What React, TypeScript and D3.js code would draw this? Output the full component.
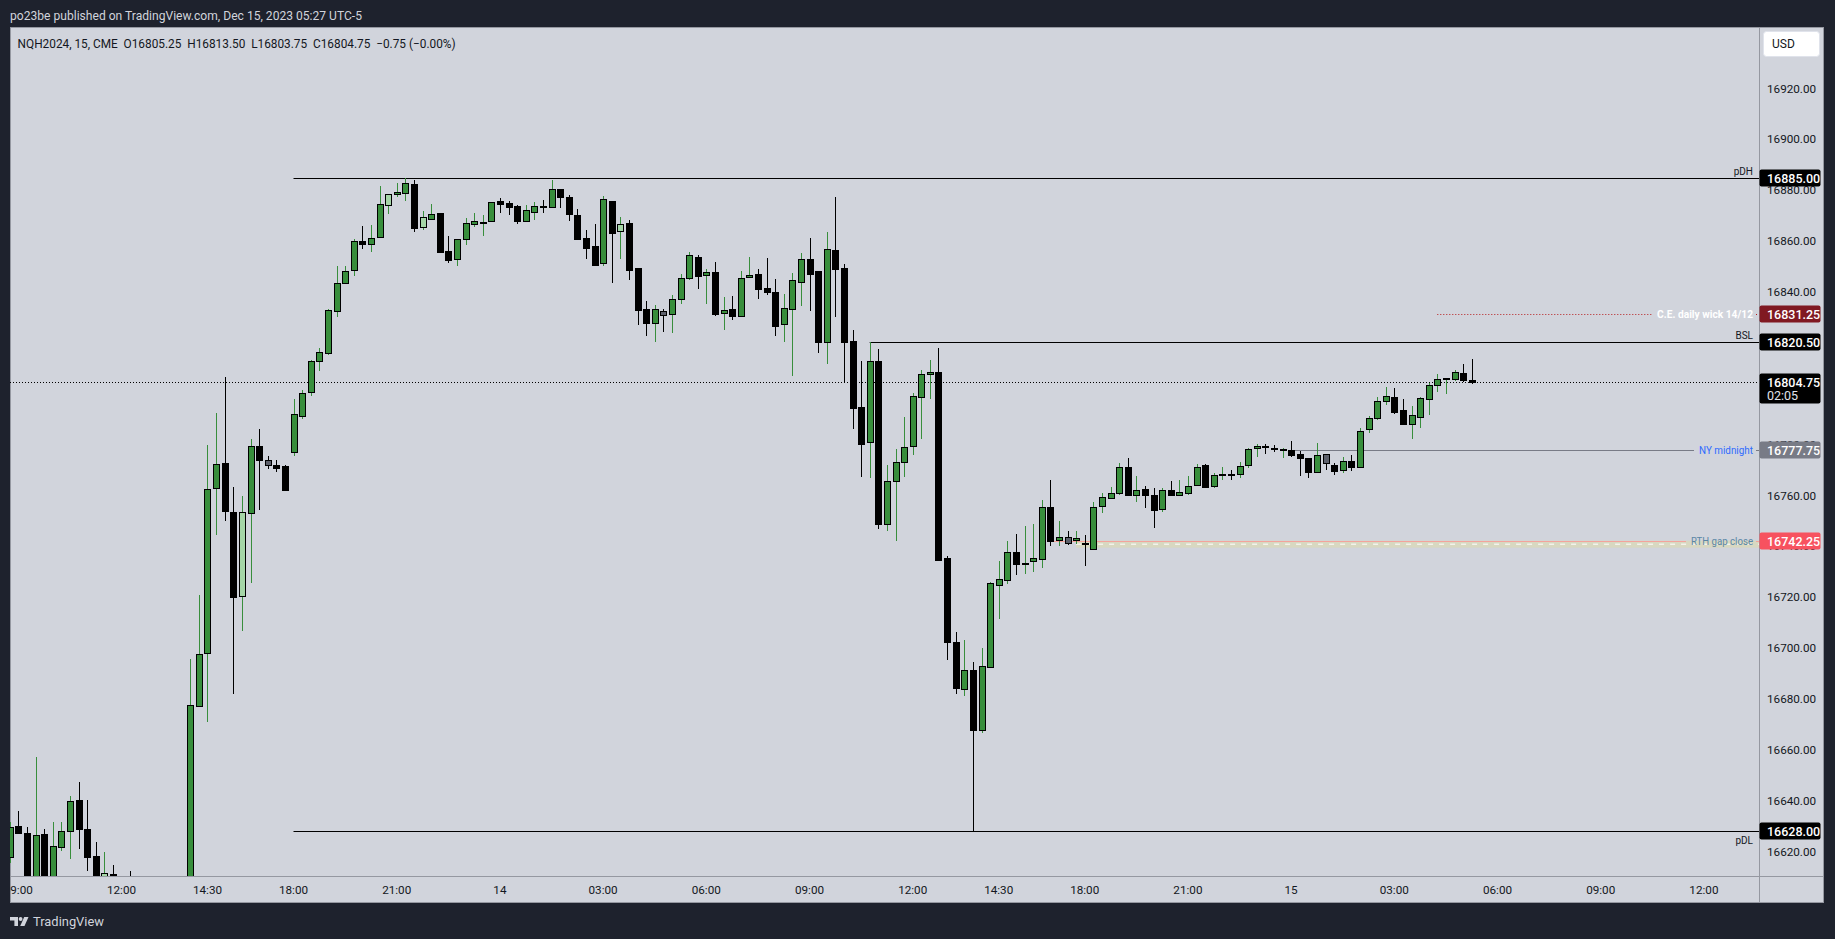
import * as d3 from "d3";

// NQH2024 15-minute bars, first bar Dec 13 2023 08:45 (UTC-5); the 17:00-18:00 halt has no bars
const opens = [
  16617.7, 16629.9, 16627.2, 16605, 16626.8, 16606, 16621.7, 16628.0, 16640.2, 16628.8,
  16618.1, 16604, 16611.2, 16603, 16600, 16597, 16601, 16597, 16594, 16599,
  16602, 16603, 16677.1, 16697.95, 16763.1, 16772.7, 16753.4, 16720.6, 16753.3, 16779.3,
  16773.8, 16771.9, 16771.5, 16777.2, 16791.4, 16800.6, 16812.7, 16815.9, 16832.4, 16843.4,
  16848.5, 16860.1, 16858.7, 16861.8, 16874.3, 16878.4, 16879.1, 16882.3, 16865.4, 16868.8,
  16870.9, 16856.1, 16852.8, 16860.7, 16866.6, 16867.3, 16867.8, 16875.7, 16874.9, 16873.7,
  16868.1, 16871.6, 16873.7, 16873.6, 16880.4, 16877.4, 16870.3, 16861.1, 16858.0, 16851.5,
  16875.8, 16863.9, 16867.0, 16849.3, 16833.2, 16828.0, 16832.4, 16831.2, 16837.1, 16845.4,
  16853.6, 16846.9, 16847.7, 16831.6, 16833.2, 16830.7, 16845.8, 16847.0, 16841.4, 16839.9,
  16827.3, 16833.5, 16843.8, 16852.8, 16848.1, 16820.5, 16856.5, 16849.3, 16820.6, 16794.8,
  16780.9, 16812.7, 16749.0, 16765.6, 16773.0, 16779.3, 16798.6, 16807.6, 16808.4, 16735.3,
  16702.3, 16684.0, 16691.3, 16667.9, 16692.7, 16724.9, 16726.6, 16737.7, 16733.2, 16734.1,
  16735.2, 16755.4, 16742.4, 16743.6, 16742.4, 16741.2, 16738.8, 16755.8, 16758.9, 16760.9,
  16771.1, 16760.1, 16762.4, 16760.1, 16754.6, 16762.0, 16760.1, 16760.9, 16764.0, 16771.9,
  16763.6, 16768.2, 16768.3, 16768.5, 16772.0, 16778.7, 16779.5, 16778.8, 16778.2, 16777.75,
  16776.4, 16774.7, 16769.1, 16776.3, 16772.0, 16770.1, 16773.6, 16771.1, 16786.1, 16790.4,
  16797.0, 16798.6, 16793.5, 16788.0, 16790.8, 16797.8, 16803.3, 16805.9, 16806.0, 16808.0,
  16805.25,
];
const highs = [
  16631.8, 16636.0, 16629.7, 16657.2, 16628.8, 16631.6, 16631.6, 16641.7, 16647.4, 16640.3,
  16623.6, 16619.7, 16614.7, 16608, 16612.4, 16606, 16607, 16604, 16603, 16606,
  16608, 16695.7, 16720.9, 16779.9, 16792.4, 16806.6, 16763.3, 16759.8, 16782.2, 16786.1,
  16775.5, 16774.0, 16772.0, 16797.9, 16801.5, 16813.3, 16817.9, 16833.3, 16850.2, 16850.2,
  16860.7, 16866.0, 16866.3, 16881.7, 16878.4, 16882.9, 16885.0, 16883.9, 16871.9, 16874.6,
  16870.9, 16862.0, 16860.7, 16869.0, 16871.1, 16870.3, 16875.3, 16876.8, 16875.8, 16874.2,
  16874.2, 16875.4, 16876.2, 16884.0, 16880.4, 16878.1, 16872.6, 16864.4, 16866.7, 16877.7,
  16875.8, 16869.5, 16868.3, 16849.3, 16836.5, 16834.8, 16833.2, 16838.7, 16847.0, 16855.7,
  16854.4, 16849.0, 16851.8, 16838.0, 16838.4, 16848.3, 16853.8, 16849.0, 16853.4, 16845.1,
  16839.2, 16847.5, 16855.3, 16861.2, 16848.1, 16863.6, 16877.4, 16851.0, 16825.1, 16812.9,
  16820.5, 16817.6, 16772.0, 16778.3, 16790.9, 16800.3, 16809.3, 16813.3, 16818.0, 16736.2,
  16706.3, 16703.2, 16694.5, 16700.0, 16726.0, 16734.2, 16742.1, 16744.9, 16748.0, 16748.8,
  16758.1, 16766.1, 16750.0, 16746.0, 16746.0, 16744.5, 16757.3, 16760.9, 16763.4, 16772.8,
  16774.7, 16767.7, 16763.7, 16762.9, 16762.9, 16765.7, 16766.1, 16767.7, 16772.3, 16772.3,
  16768.7, 16771.2, 16769.9, 16773.1, 16778.8, 16780.2, 16780.1, 16780.0, 16778.7, 16781.5,
  16777.6, 16774.7, 16780.6, 16776.3, 16772.8, 16775.1, 16775.9, 16786.5, 16791.2, 16798.6,
  16802.5, 16802.1, 16797.8, 16795.1, 16798.6, 16804.1, 16807.6, 16806.4, 16809.5, 16811.6,
  16813.5,
];
const lows = [
  16615.4, 16627.0, 16600, 16600, 16602, 16603, 16620.4, 16617.2, 16621.1, 16612.5,
  16602, 16600, 16598, 16596, 16594, 16591, 16595, 16590, 16589, 16594,
  16597, 16600, 16677.1, 16671.1, 16744.6, 16750.1, 16682.1, 16706.9, 16725.7, 16754.4,
  16770.6, 16769.4, 16762.3, 16775.5, 16790.2, 16799.3, 16809.1, 16815.4, 16830.3, 16843.4,
  16846.4, 16856.8, 16855.9, 16861.1, 16870.8, 16877.5, 16875.9, 16863.7, 16864.5, 16868.3,
  16855.5, 16851.5, 16850.4, 16858.6, 16865.7, 16862.0, 16867.8, 16871.2, 16870.3, 16866.9,
  16867.7, 16868.4, 16871.2, 16873.0, 16873.0, 16868.1, 16861.0, 16853.0, 16850.8, 16850.4,
  16843.7, 16853.1, 16844.9, 16827.2, 16822.8, 16820.5, 16824.4, 16824.0, 16835.4, 16844.7,
  16841.3, 16835.4, 16830.7, 16825.1, 16829.1, 16830.7, 16845.8, 16837.4, 16839.0, 16822.8,
  16820.5, 16807.0, 16834.6, 16832.7, 16816.2, 16811.8, 16830.3, 16804.5, 16786.3, 16767.4,
  16767.0, 16747.0, 16746.2, 16742.2, 16767.4, 16776.1, 16782.4, 16798.1, 16734.4, 16695.3,
  16682.1, 16681.3, 16628.0, 16666.8, 16692.7, 16711.6, 16725.2, 16728.9, 16729.3, 16730.1,
  16731.6, 16740.1, 16740.1, 16740.5, 16740.9, 16732.4, 16738.8, 16753.3, 16758.5, 16760.2,
  16759.7, 16757.3, 16755.2, 16747.4, 16753.4, 16760.1, 16760.1, 16760.1, 16764.0, 16763.2,
  16763.1, 16766.0, 16766.0, 16766.8, 16770.7, 16775.0, 16776.2, 16777.0, 16774.6, 16775.0,
  16767.6, 16766.8, 16768.7, 16769.9, 16768.2, 16768.7, 16769.5, 16770.7, 16784.5, 16789.6,
  16795.5, 16792.2, 16787.9, 16782.4, 16786.5, 16791.6, 16800.6, 16799.8, 16805.2, 16804.5,
  16803.75,
];
const closes = [
  16629.5, 16627.4, 16605, 16626.4, 16606, 16622.1, 16628.0, 16639.8, 16629.0, 16618.0,
  16606, 16611.4, 16603, 16600, 16597, 16601, 16597, 16594, 16599, 16602,
  16603, 16677.5, 16697.6, 16762.6, 16772.3, 16754.0, 16720.2, 16753.4, 16779.3, 16774.1,
  16772.1, 16770.95, 16762.3, 16791.9, 16800.2, 16812.7, 16816.3, 16832.8, 16843.4, 16848.1,
  16859.9, 16859.0, 16861.1, 16874.5, 16878.4, 16879.2, 16882.7, 16865.3, 16869.4, 16870.5,
  16855.9, 16852.7, 16860.7, 16867.0, 16867.8, 16867.5, 16875.3, 16874.7, 16873.6, 16868.1,
  16872.1, 16873.8, 16873.6, 16880.4, 16877.5, 16870.8, 16861.0, 16857.4, 16850.8, 16876.4,
  16863.3, 16866.6, 16848.8, 16833.1, 16828.0, 16833.2, 16830.8, 16837.1, 16845.4, 16854.4,
  16846.4, 16847.7, 16831.5, 16832.8, 16830.7, 16845.4, 16846.6, 16841.3, 16840.1, 16826.8,
  16833.6, 16844.6, 16852.8, 16847.2, 16820.5, 16856.8, 16849.2, 16820.5, 16794.5, 16780.4,
  16812.7, 16748.9, 16765.6, 16773.0, 16778.9, 16799.0, 16807.6, 16808.4, 16734.8, 16702.3,
  16684.4, 16691.3, 16667.9, 16692.8, 16725.5, 16727.0, 16737.7, 16733.2, 16733.3, 16735.3,
  16755.4, 16742.2, 16743.6, 16741.5, 16743.2, 16740.9, 16755.4, 16759.3, 16760.9, 16771.1,
  16760.1, 16762.0, 16760.1, 16754.2, 16762.0, 16760.1, 16761.3, 16763.6, 16771.1, 16763.2,
  16768.0, 16768.4, 16768.0, 16771.6, 16778.3, 16779.5, 16779.4, 16778.7, 16778.3, 16775.8,
  16774.6, 16769.1, 16775.9, 16772.8, 16769.5, 16773.6, 16771.1, 16785.3, 16790.4, 16797.0,
  16799.0, 16793.0, 16788.3, 16791.6, 16798.2, 16803.3, 16806.0, 16806.1, 16808.4, 16805.6,
  16804.75,
];
// bars drawn with the faded body colour
const dimBars = [11, 27, 30, 44, 48, 71, 76, 123, 153];

const priceTicks = [16620, 16640, 16660, 16680, 16700, 16720, 16740, 16760, 16780, 16800, 16820, 16840, 16860, 16880, 16900, 16920];
const timeTicks = [
  { label: "09:00", time: "2023-12-13 09:00" },
  { label: "12:00", time: "2023-12-13 12:00" },
  { label: "14:30", time: "2023-12-13 14:30" },
  { label: "18:00", time: "2023-12-13 18:00" },
  { label: "21:00", time: "2023-12-13 21:00" },
  { label: "14", time: "2023-12-14 00:00" },
  { label: "03:00", time: "2023-12-14 03:00" },
  { label: "06:00", time: "2023-12-14 06:00" },
  { label: "09:00", time: "2023-12-14 09:00" },
  { label: "12:00", time: "2023-12-14 12:00" },
  { label: "14:30", time: "2023-12-14 14:30" },
  { label: "18:00", time: "2023-12-14 18:00" },
  { label: "21:00", time: "2023-12-14 21:00" },
  { label: "15", time: "2023-12-15 00:00" },
  { label: "03:00", time: "2023-12-15 03:00" },
  { label: "06:00", time: "2023-12-15 06:00" },
  { label: "09:00", time: "2023-12-15 09:00" },
  { label: "12:00", time: "2023-12-15 12:00" },
];

// drawn levels
const levelNames = ["pDH", "C.E. daily wick 14/12", "BSL", "NY midnight", "RTH gap close", "pDL"];
const levelPrices = [16885.0, 16831.25, 16820.5, 16777.75, 16742.25, 16628.0];
const levelStarts = ["2023-12-13 18:00", "2023-12-15 04:15", "2023-12-14 10:45", "2023-12-15 00:00", "2023-12-14 16:00", "2023-12-13 18:00"];
const gapLow = 16739.5;
const gapStart = "2023-12-14 16:45";
const countdown = "02:05";

const FIRST_BAR = "2023-12-13 08:45";

function toMs(s: string) {
  const [d, t] = s.split(" ");
  const [Y, M, D] = d.split("-").map(Number);
  const [h, m] = t.split(":").map(Number);
  return Date.UTC(Y, M - 1, D, h, m);
}
const STEP = 15 * 60 * 1000;
function barIndex(s: string) {
  const end = toMs(s);
  let i = 0;
  for (let t = toMs(FIRST_BAR); t < end; t += STEP) {
    if (new Date(t).getUTCHours() !== 17) i++;
  }
  return i;
}

const FONT = "Roboto, 'Noto Sans', Arial, sans-serif";
const PANE = { left: 10, top: 27, right: 1759, bottom: 876 };
const FRAME = { right: 1824, bottom: 903 };

const styleOf: Record<string, any> = {
  pDH: { stroke: "#000000", box: "#000000", text: "#131722", place: "above" },
  "C.E. daily wick 14/12": { stroke: "#b71c1c", dash: "1,2", box: "#801922", text: "#ffffff", weight: 700, place: "inline", width: 96 },
  BSL: { stroke: "#000000", box: "#000000", text: "#131722", place: "above" },
  "NY midnight": { stroke: "#787b86", box: "#787b86", text: "#2f6bff", place: "inline", width: 54 },
  "RTH gap close": { stroke: "#f4a39b", box: "#f7525f", text: "#5b87a6", place: "inline", width: 62 },
  pDL: { stroke: "#000000", box: "#000000", text: "#131722", place: "below" },
};

export default function App() {
  const x = d3.scaleLinear().domain([0, 170]).range([9.7, 9.7 + 170 * 8.6]);
  const y = d3.scaleLinear().domain([16620, 16885]).range([851.6, 177.6]);
  const fmt = d3.format(".2f");
  const last = closes.length - 1;

  const candles = opens.map((o, i) => {
    const c = closes[i];
    const up = c >= o;
    const dim = dimBars.includes(i);
    const cx = Math.round(x(i));
    const top = Math.round(y(Math.max(o, c)));
    const bot = Math.round(y(Math.min(o, c)));
    const body = up ? (dim ? "#a5d6a7" : "#388e3c") : dim ? "#5d606b" : "#000000";
    const wick = up ? "#388e3c" : "#000000";
    return (
      <g key={i}>
        <line x1={cx + 0.5} x2={cx + 0.5} y1={y(highs[i])} y2={y(lows[i])} stroke={wick} strokeWidth={1} />
        <rect x={cx - 2.5} y={top + 0.5} width={6} height={Math.max(1, bot - top)} fill={body} stroke="#000" strokeWidth={1} />
      </g>
    );
  });

  const boxW = 61;
  // axis boxes: [price, fill, second line]
  const boxes: [number, string, string?][] = [
    [levelPrices[0], "#000000"],
    [levelPrices[1], "#801922"],
    [levelPrices[2], "#000000"],
    [closes[last], "#000000", countdown],
    [levelPrices[3], "#787b86"],
    [levelPrices[4], "#f7525f"],
    [levelPrices[5], "#000000"],
  ];
  const boxSpan = (b: [number, string, string?]) => {
    const py = Math.round(y(b[0]));
    return [py - 8.5, py - 8.5 + (b[2] ? 30 : 17)];
  };
  // tick labels that sit completely under an axis box are not drawn (as in TradingView)
  const visibleTicks = priceTicks.filter((p) => {
    const ty = y(p);
    return !boxes.some((b) => {
      const [t0, t1] = boxSpan(b);
      return ty - 4 >= t0 && ty + 4 <= t1;
    });
  });

  const gapX = x(barIndex(gapStart));
  const lastY = Math.round(y(closes[last])) + 0.5;

  return (
    <svg width={1835} height={939} style={{ position: "absolute", left: 0, top: 0, display: "block" }}>
      <defs>
        <clipPath id="pane">
          <rect x={PANE.left} y={PANE.top} width={PANE.right - PANE.left} height={PANE.bottom - PANE.top} />
        </clipPath>
        <clipPath id="timeaxis">
          <rect x={PANE.left} y={PANE.bottom} width={PANE.right - PANE.left} height={FRAME.bottom - PANE.bottom} />
        </clipPath>
      </defs>
      <rect width={1835} height={939} fill="#1e222d" />
      <text x={10} y={20} fill="#d1d4dc" fontSize={12.5} fontFamily={FONT} textLength={352} lengthAdjust="spacingAndGlyphs">
        po23be published on TradingView.com, Dec 15, 2023 05:27 UTC-5
      </text>

      <rect x={PANE.left + 0.5} y={PANE.top + 0.5} width={FRAME.right - PANE.left - 1} height={FRAME.bottom - PANE.top - 1} fill="#d1d4dc" stroke="#9598a1" />

      <g clipPath="url(#pane)">
        {/* RTH gap band */}
        <rect x={gapX} y={y(16742.25)} width={PANE.right - gapX} height={y(gapLow) - y(16742.25)} fill="rgba(255,235,59,0.16)" />
        <line x1={gapX} x2={PANE.right} y1={(y(16742.25) + y(gapLow)) / 2} y2={(y(16742.25) + y(gapLow)) / 2} stroke="#ffffff" strokeDasharray="5,6" />

        {levelNames.map((name, i) => {
          const s = styleOf[name];
          const ly = Math.round(y(levelPrices[i])) + 0.5;
          const x0 = x(barIndex(levelStarts[i]));
          const labelEnd = 1753;
          if (s.place === "inline") {
            const x1 = labelEnd - s.width - 5;
            return (
              <g key={name}>
                <line x1={x0} x2={x1} y1={ly} y2={ly} stroke={s.stroke} strokeDasharray={s.dash} />
                <line x1={labelEnd + 3} x2={PANE.right} y1={ly} y2={ly} stroke={s.stroke} strokeDasharray={s.dash} />
                <text x={labelEnd} y={ly + 3.5} textAnchor="end" fill={s.text} fontSize={10} fontWeight={s.weight || 400} fontFamily={FONT} textLength={s.width} lengthAdjust="spacingAndGlyphs">
                  {name}
                </text>
              </g>
            );
          }
          return (
            <g key={name}>
              <line x1={x0} x2={PANE.right} y1={ly} y2={ly} stroke={s.stroke} />
              <text x={labelEnd} y={s.place === "above" ? ly - 4 : ly + 12} textAnchor="end" fill={s.text} fontSize={10} fontFamily={FONT}>
                {name}
              </text>
            </g>
          );
        })}

        {/* current price */}
        <line x1={PANE.left} x2={PANE.right} y1={lastY} y2={lastY} stroke="#000" strokeDasharray="1,2" />

        <g shapeRendering="crispEdges">{candles}</g>
      </g>

      <text x={17.6} y={48} fill="#131722" fontSize={12} fontFamily={FONT} textLength={438} lengthAdjust="spacingAndGlyphs" style={{ whiteSpace: "pre" }}>
        {`NQH2024, 15, CME  O${fmt(opens[last])}  H${fmt(highs[last])}  L${fmt(lows[last])}  C${fmt(closes[last])}  −0.75 (−0.00%)`}
      </text>

      {/* price axis */}
      <line x1={PANE.right + 0.5} x2={PANE.right + 0.5} y1={PANE.top} y2={FRAME.bottom} stroke="#9598a1" />
      <line x1={PANE.left} x2={FRAME.right} y1={PANE.bottom + 0.5} y2={PANE.bottom + 0.5} stroke="#9598a1" />
      {visibleTicks.map((p) => (
        <text key={p} x={1767} y={y(p) + 4} fill="#131722" fontSize={11.7} fontFamily={FONT}>
          {fmt(p)}
        </text>
      ))}
      <rect x={1763.5} y={31.5} width={56} height={25} rx={3} fill="#ffffff" stroke="#e0e3eb" />
      <text x={1772} y={48} fill="#131722" fontSize={12} fontFamily={FONT}>
        USD
      </text>

      {boxes.map((b, i) => {
        const py = Math.round(y(b[0]));
        const [t0, t1] = boxSpan(b);
        return (
          <g key={i}>
            <rect x={PANE.right + 0.5} y={t0} width={boxW} height={t1 - t0} rx={2} fill={b[1]} />
            <text x={PANE.right + 8} y={py + 4.5} fill="#ffffff" fontSize={12.5} fontFamily={FONT} fontWeight={500}>
              {fmt(b[0])}
            </text>
            {b[2] && (
              <text x={PANE.right + 8} y={py + 18} fill="#e0e3eb" fontSize={12.5} fontFamily={FONT}>
                {b[2]}
              </text>
            )}
          </g>
        );
      })}

      {/* time axis */}
      <g clipPath="url(#timeaxis)">
        {timeTicks.map((t, i) => (
          <text key={i} x={x(barIndex(t.time))} y={894} textAnchor="middle" fill="#131722" fontSize={11.7} fontFamily={FONT}>
            {t.label}
          </text>
        ))}
      </g>

      {/* footer logo */}
      <g fill="#d1d4dc">
        <path d="M10 917 h8 v9 h-3.6 v-5.6 h-4.4 z" />
        <circle cx={20.6} cy={919} r={1.9} />
        <path d="M24.2 917 h4.3 l-4 9 h-4.3 z" />
      </g>
      <text x={33} y={926} fill="#d1d4dc" fontSize={13} fontFamily={FONT} textLength={71} lengthAdjust="spacingAndGlyphs">
        TradingView
      </text>
    </svg>
  );
}
